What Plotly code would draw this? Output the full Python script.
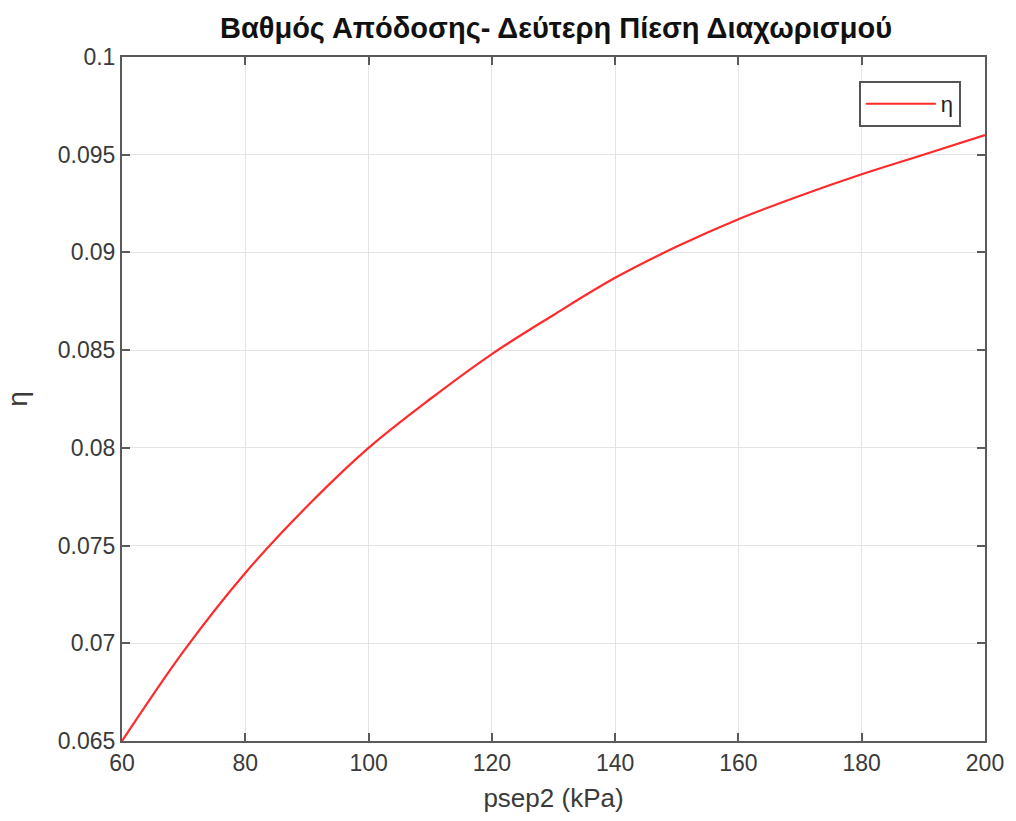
import plotly.graph_objects as go

psep2 = [60, 70, 80, 90, 100, 110, 120, 130, 140, 150, 160, 170, 180, 190, 200]
eta = [0.0650, 0.0696, 0.0736, 0.0770, 0.0800, 0.0825, 0.0848, 0.0868, 0.0887,
       0.0903, 0.0917, 0.0929, 0.0940, 0.0950, 0.0960]

x_ticks = [60, 80, 100, 120, 140, 160, 180, 200]
y_ticks = [0.065, 0.07, 0.075, 0.08, 0.085, 0.09, 0.095, 0.1]
y_ticktext = ["0.065", "0.07", "0.075", "0.08", "0.085", "0.09", "0.095", "0.1"]

FONT = "Liberation Sans, Arial"

fig = go.Figure()
fig.add_trace(go.Scatter(x=psep2, y=eta, mode="lines", name="η",
                         line=dict(color="#ff2a2a", width=2.2, shape="spline")))

axis_common = dict(
    showline=True, linecolor="#5a5a5a", linewidth=2, mirror="ticks",
    ticks="inside", ticklen=8, tickcolor="#5a5a5a", tickwidth=1.5,
    showgrid=True, gridcolor="#e4e4e4", gridwidth=1.2, zeroline=False,
    tickfont=dict(family=FONT, size=23, color="#3a3a3a"),
)

fig.update_layout(
    width=1016, height=821,
    margin=dict(l=122, r=24, t=57, b=80),
    paper_bgcolor="white", plot_bgcolor="white",
    title=dict(text="<b>Βαθμός Απόδοσης- Δεύτερη Πίεση Διαχωρισμού</b>",
               x=(122 + 990) / 2 / 1016, xanchor="center", y=1 - 28 / 821, yanchor="middle",
               font=dict(family=FONT, size=29, color="#111111")),
    xaxis=dict(range=[60, 200], tickvals=x_ticks, ticktext=[str(v) for v in x_ticks],
               title=dict(text="psep2 (kPa)", standoff=14,
                          font=dict(family=FONT, size=26, color="#3a3a3a")),
               **axis_common),
    yaxis=dict(range=[0.065, 0.1], tickvals=y_ticks, ticktext=y_ticktext,
               title=dict(text="η", standoff=22,
                          font=dict(family=FONT, size=28, color="#3a3a3a")),
               **axis_common),
    legend=dict(x=0.972, y=0.965, xanchor="right", yanchor="top",
                bordercolor="#555555", borderwidth=2, bgcolor="white",
                itemwidth=70, tracegroupgap=0,
                font=dict(family=FONT, size=22, color="#222222")),
    showlegend=True,
)

fig.write_html("out.html")
